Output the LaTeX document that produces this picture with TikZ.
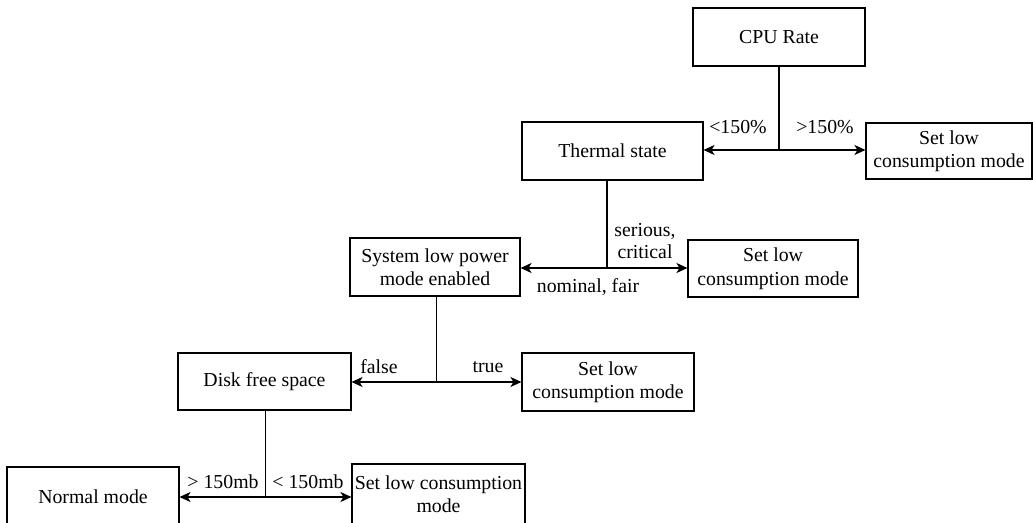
\documentclass[tikz,border=0pt]{standalone}
\usepackage{fontspec}
\setmainfont{Liberation Serif}
\usetikzlibrary{arrows.meta}

\tikzset{
  box/.style={draw, line width=1.1pt, inner sep=0pt, align=center,
    font=\fontsize{19.8}{23.5}\selectfont},
  lbl/.style={inner sep=0pt, align=center,
    font=\fontsize{19.8}{22}\selectfont},
  trunk/.style={line width=1.5pt},
  thin trunk/.style={line width=1pt},
  branch/.style={line width=1.5pt,
    -{Stealth[length=11pt,width=10pt,inset=3pt]}},
}

\begin{document}
\begin{tikzpicture}[x=1pt,y=-1pt]
  \useasboundingbox (0,0) rectangle (1033,522);
  \clip (0,0) rectangle (1033,522);

  % decision and result boxes
  \node[box, minimum width=172pt, minimum height=58pt] (cpu)     at (779,37)     {CPU Rate};
  \node[box, minimum width=181pt, minimum height=58pt] (thermal) at (612.5,151)  {Thermal state};
  \node[box, minimum width=166pt, minimum height=56pt] (set1)    at (949,151)    {Set low\\consumption mode};
  \node[box, minimum width=170pt, minimum height=58pt] (system)  at (435,267)    {System low power\\mode enabled};
  \node[box, minimum width=170pt, minimum height=57pt] (set2)    at (773,268.5)  {Set low\\consumption mode};
  \node[box, minimum width=173pt, minimum height=57pt] (disk)    at (264.5,381.5){Disk free space};
  \node[box, minimum width=172pt, minimum height=58pt] (set3)    at (608,382)    {Set low\\consumption mode};
  \node[box, minimum width=172pt, minimum height=60pt] (normal)  at (93,497)     {Normal mode};
  \node[box, minimum width=173pt, minimum height=60pt] (set4)    at (438.5,494)  {Set low consumption\\mode};

  % branch points
  \coordinate (j1) at (779,150);
  \coordinate (j2) at (607,268);
  \coordinate (j3) at (436,382);
  \coordinate (j4) at (265,497);

  % CPU rate split
  \draw[trunk] (cpu.south) -- (j1);
  \draw[branch] (j1) -- (j1 -| thermal.east);
  \draw[branch] (j1) -- (j1 -| set1.west);

  % thermal state split
  \draw[trunk] (j2 |- thermal.south) -- (j2);
  \draw[branch] (j2) -- (j2 -| system.east);
  \draw[branch] (j2) -- (j2 -| set2.west);

  % low power mode split
  \draw[thin trunk] (j3 |- system.south) -- (j3);
  \draw[branch] (j3) -- (j3 -| disk.east);
  \draw[branch] (j3) -- (j3 -| set3.west);

  % disk space split
  \draw[thin trunk] (j4 |- disk.south) -- (j4);
  \draw[branch] (j4) -- (j4 -| normal.east);
  \draw[branch] (j4) -- (j4 -| set4.west);

  % branch labels
  \node[lbl] (l1) at (738,127) {<150\%};
  \node[lbl] (l2) at (825,127) {>150\%};
  \node[lbl] (l3) at (645,241) {serious,\\critical};
  \node[lbl] (l4) at (588,287) {nominal, fair};
  \node[lbl] (l5) at (379,367) {false};
  \node[lbl] (l6) at (488,367) {true};
  \node[lbl] (l7) at (223,482) {> 150mb};
  \node[lbl] (l8) at (308,482) {< 150mb};
\end{tikzpicture}
\end{document}
